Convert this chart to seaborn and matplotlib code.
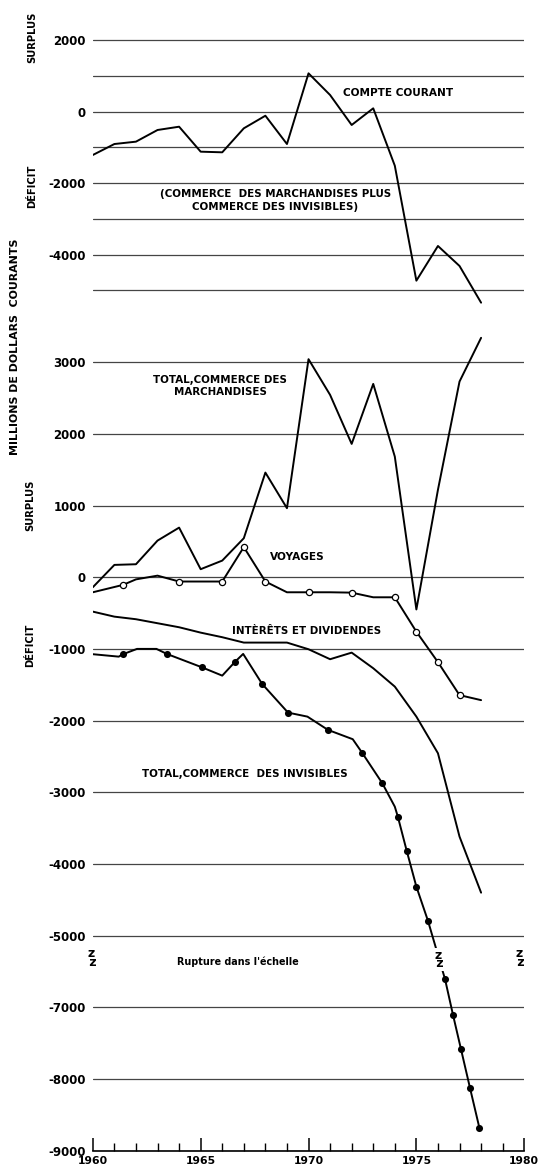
import numpy as np
import pandas as pd
import matplotlib
matplotlib.use("Agg")
import matplotlib.pyplot as plt
from matplotlib.ticker import FixedLocator, MultipleLocator
import seaborn as sns

# ---------------- data ----------------
years = list(range(1960, 1979))

# Top panel: compte courant (millions de dollars courants)
compte_courant = [-1213, -906, -840, -514, -422, -1120, -1138, -467, -115, -906,
                  1070, 464, -374, 92, -1512, -4726, -3756, -4315, -5341]

# Bottom panel
marchandises = [-140, 172, 181, 511, 692, 112, 232, 544, 1460, 963,
                3042, 2544, 1860, 2697, 1683, -450, 1220, 2730, 3340]

interets = [-480, -550, -586, -642, -698, -773, -837, -912, -912, -912,
            -1005, -1144, -1052, -1270, -1526, -1945, -2456, -3619, -4401]

voyages_years = [1960, 1961.4, 1962, 1963, 1964, 1965, 1966, 1967, 1968, 1969,
                 1970, 1971, 1972, 1973, 1974, 1975, 1976, 1977, 1978]
voyages = [-210, -107, -30, 22, -60, -60, -60, 420, -60, -210,
           -210, -210, -215, -280, -280, -760, -1185, -1645, -1715]
voyages_marked = [0, 1, 0, 0, 1, 0, 1, 1, 1, 0,
                  1, 0, 1, 0, 1, 1, 1, 1, 0]

invisibles_years = [1960, 1961.2, 1961.4, 1962.05, 1962.95, 1963.43, 1965.05, 1966.0,
                    1966.6, 1966.97, 1967.85, 1969.05, 1969.95, 1970.9, 1972.05,
                    1972.48, 1973.42, 1974.0, 1974.14, 1974.55, 1975.0, 1975.54,
                    1976.33, 1976.7, 1977.07, 1977.49, 1977.92]
invisibles = [-1074, -1108, -1074, -1000, -1000, -1070, -1256, -1373,
              -1178, -1070, -1489, -1889, -1945, -2130, -2260,
              -2447, -2874, -3201, -3340, -3815, -4317, -4796,
              -6609, -7108, -7586, -8130, -8680]
invisibles_marked = [0, 0, 1, 0, 0, 1, 1, 0,
                     1, 0, 1, 1, 0, 1, 0,
                     1, 1, 0, 1, 1, 1, 1,
                     1, 1, 1, 1, 1]

top_ticks = [2000, 1000, 0, -1000, -2000, -3000, -4000, -5000]
top_labels = ["2000", "", "0", "", "-2000", "", "-4000", ""]
bot_ticks = [3000, 2000, 1000, 0, -1000, -2000, -3000, -4000, -5000, -7000, -8000, -9000]
bot_labels = ["3000", "2000", "1000", "0", "-1000", "-2000", "-3000", "-4000",
              "-5000", "-7000", "-8000", "-9000"]
x_ticks = [1960, 1965, 1970, 1975, 1980]
x_labels = ["1960", "1965", "1970", "1975", "1980"]

# ---------------- style ----------------
sns.set_theme(style="white")
plt.rcParams["font.family"] = ["DejaVu Sans"]
plt.rcParams["font.weight"] = "bold"
for key in ("text.color", "axes.labelcolor", "xtick.color", "ytick.color"):
    plt.rcParams[key] = "black"

fig = plt.figure(figsize=(5.39, 11.70), dpi=100)
ax_top = fig.add_axes([0.1722, 0.7395, 0.8004, 0.2417])
ax_bot = fig.add_axes([0.1722, 0.0165, 0.8004, 0.7015])

LINE_KW = dict(color="black", lw=1.4, estimator=None, sort=False)
GRID_COLOR = "#454545"

# ---------------- top panel ----------------
df_cc = pd.DataFrame({"annee": years, "valeur": compte_courant})
sns.lineplot(data=df_cc, x="annee", y="valeur", ax=ax_top, zorder=3, **LINE_KW)

ax_top.set_xlim(1960, 1980)
ax_top.set_ylim(-5400, 2505)
ax_top.yaxis.set_major_locator(FixedLocator(top_ticks))
ax_top.set_yticklabels(top_labels)
ax_top.grid(True, axis="y", color=GRID_COLOR, lw=0.9)
ax_top.grid(False, axis="x")
ax_top.tick_params(axis="x", bottom=False, labelbottom=False)
ax_top.tick_params(axis="y", length=0, pad=5, labelsize=8.5)
for s in ax_top.spines.values():
    s.set_visible(False)
ax_top.set_xlabel("")
ax_top.set_ylabel("")

ax_top.text(1974.14, 520, "COMPTE COURANT", ha="center", va="center", fontsize=7.6)
ax_top.text(1968.45, -2485, "(COMMERCE  DES MARCHANDISES PLUS\nCOMMERCE DES INVISIBLES)",
            ha="center", va="center", fontsize=7.4, linespacing=1.35)

# ---------------- bottom panel ----------------
df_m = pd.DataFrame({"annee": years, "valeur": marchandises})
df_i = pd.DataFrame({"annee": years, "valeur": interets})
df_v = pd.DataFrame({"annee": voyages_years, "valeur": voyages, "marque": voyages_marked})
df_inv = pd.DataFrame({"annee": invisibles_years, "valeur": invisibles, "marque": invisibles_marked})

sns.lineplot(data=df_m, x="annee", y="valeur", ax=ax_bot, zorder=3, **LINE_KW)
sns.lineplot(data=df_i, x="annee", y="valeur", ax=ax_bot, zorder=3, **LINE_KW)
sns.lineplot(data=df_v, x="annee", y="valeur", ax=ax_bot, zorder=3, **LINE_KW)
sns.lineplot(data=df_inv, x="annee", y="valeur", ax=ax_bot, zorder=3, **LINE_KW)
sns.scatterplot(data=df_v[df_v["marque"] == 1], x="annee", y="valeur", ax=ax_bot,
                color="white", edgecolor="black", linewidth=0.9, s=20, zorder=5)
sns.scatterplot(data=df_inv[df_inv["marque"] == 1], x="annee", y="valeur", ax=ax_bot,
                color="black", edgecolor="black", linewidth=0, s=26, zorder=5)

# broken scale: the band between -5450 and -6450 is squeezed out
B1, GAP, G = -5450.0, 1000.0, 1.0


def fwd(y):
    y = np.asarray(y, dtype=float)
    return np.where(y >= B1, y,
                    np.where(y <= B1 - GAP, y + GAP - G, B1 + (y - B1) * G / GAP))


def inv(d):
    d = np.asarray(d, dtype=float)
    return np.where(d >= B1, d,
                    np.where(d <= B1 - G, d - GAP + G, B1 + (d - B1) * GAP / G))


ax_bot.set_yscale("function", functions=(fwd, inv))
ax_bot.set_xlim(1960, 1980)
ax_bot.set_ylim(-9000, 3450)
ax_bot.yaxis.set_major_locator(FixedLocator(bot_ticks))
ax_bot.yaxis.set_minor_locator(FixedLocator([]))
ax_bot.set_yticklabels(bot_labels)
ax_bot.grid(True, axis="y", color=GRID_COLOR, lw=0.9)
ax_bot.grid(False, axis="x")
ax_bot.xaxis.set_major_locator(FixedLocator(x_ticks))
ax_bot.xaxis.set_minor_locator(MultipleLocator(1))
ax_bot.set_xticklabels(x_labels)
ax_bot.tick_params(axis="x", which="major", direction="in", length=9.5, width=1.1,
                   color="black", bottom=True, pad=4, labelsize=7.8)
ax_bot.tick_params(axis="x", which="minor", direction="in", length=5.5, width=1.0,
                   color="black", bottom=True)
ax_bot.tick_params(axis="y", length=0, pad=5, labelsize=8.5)
for name, s in ax_bot.spines.items():
    s.set_visible(name == "bottom")
ax_bot.spines["bottom"].set_color("black")
ax_bot.spines["bottom"].set_linewidth(1.2)
ax_bot.set_xlabel("")
ax_bot.set_ylabel("")

ax_bot.text(1965.9, 2669, "TOTAL,COMMERCE DES\nMARCHANDISES", ha="center", va="center",
            fontsize=7.4, linespacing=1.3)
ax_bot.text(1969.47, 283, "VOYAGES", ha="center", va="center", fontsize=7.6)
ax_bot.text(1969.91, -749, "INTÈRÊTS ET DIVIDENDES", ha="center", va="center", fontsize=7.4)
ax_bot.text(1967.04, -2745, "TOTAL,COMMERCE  DES INVISIBLES", ha="center", va="center",
            fontsize=7.4)
ax_bot.text(1966.73, -5368, "Rupture dans l'échelle", ha="center", va="center", fontsize=6.9)

zig_kw = dict(ha="center", va="center", fontsize=9, linespacing=0.55, clip_on=False)
ax_bot.text(1959.92, -5312, "z\n z", **zig_kw)
ax_bot.text(1979.76, -5312, "z\n z", **zig_kw)
ax_bot.text(1976.0, -5335, "z\n z", zorder=6,
            bbox=dict(facecolor="white", edgecolor="none", pad=0.3), **zig_kw)

# ---------------- axis titles (rotated) ----------------
side_kw = dict(rotation=90, ha="center", va="center", fontsize=7.2)
fig.text(0.0607, 0.9684, "SURPLUS", **side_kw)
fig.text(0.0594, 0.8410, "DÉFICIT", **side_kw)
fig.text(0.0562, 0.5684, "SURPLUS", **side_kw)
fig.text(0.0557, 0.4487, "DÉFICIT", **side_kw)
fig.text(0.0278, 0.7034, "MILLIONS DE DOLLARS  COURANTS", rotation=90, ha="center",
         va="center", fontsize=7.9)

fig.savefig("out.png", dpi=100, facecolor="white")
